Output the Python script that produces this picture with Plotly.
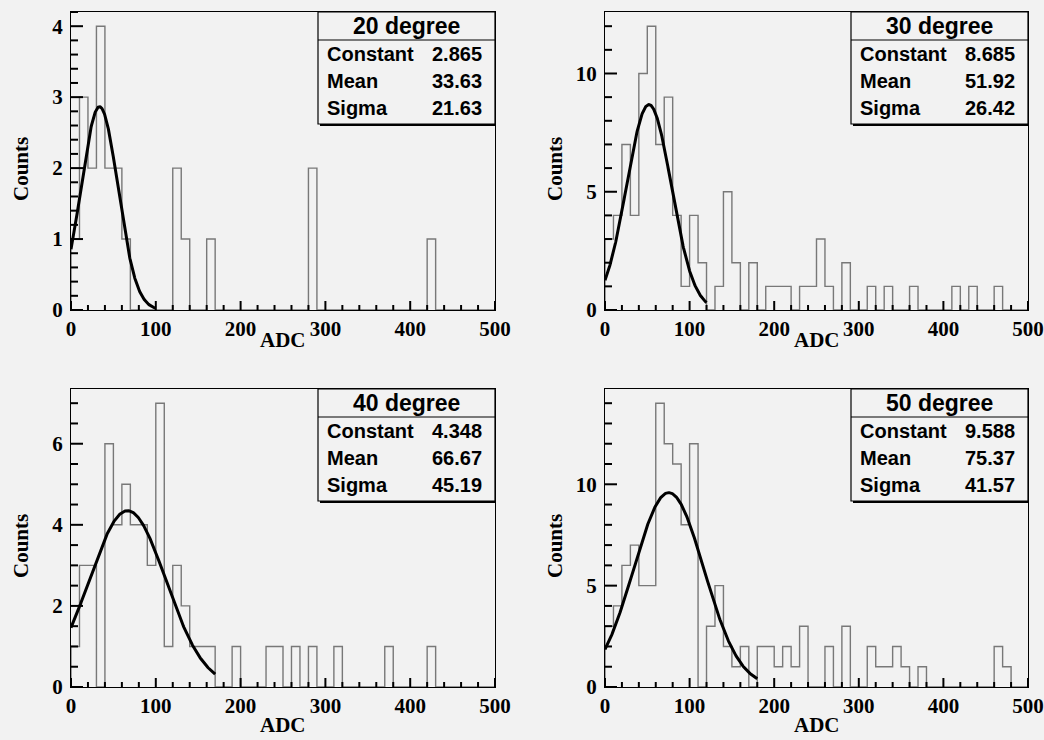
import numpy as np
import plotly.graph_objects as go

# ADC histograms, 50 bins of width 10 over 0..500
BIN_WIDTH = 10
ADC_MIN, ADC_MAX = 0, 500

panel_titles = ["20 degree", "30 degree", "40 degree", "50 degree"]

counts_20 = [1, 3, 2, 4, 2, 2, 1, 0, 0, 0,
             0, 0, 2, 1, 0, 0, 1, 0, 0, 0,
             0, 0, 0, 0, 0, 0, 0, 0, 2, 0,
             0, 0, 0, 0, 0, 0, 0, 0, 0, 0,
             0, 0, 1, 0, 0, 0, 0, 0, 0, 0]
counts_30 = [3, 4, 7, 4, 10, 12, 7, 9, 4, 1,
             4, 2, 0, 1, 5, 2, 0, 2, 0, 1,
             1, 1, 0, 1, 1, 3, 1, 0, 2, 0,
             0, 1, 0, 1, 0, 0, 1, 0, 0, 0,
             0, 1, 0, 1, 0, 0, 1, 0, 0, 0]
counts_40 = [1, 3, 3, 0, 6, 4, 5, 4, 4, 3,
             7, 1, 3, 2, 1, 1, 1, 0, 0, 1,
             0, 0, 0, 1, 1, 0, 1, 0, 1, 0,
             0, 1, 0, 0, 0, 0, 0, 1, 0, 0,
             0, 0, 1, 0, 0, 0, 0, 0, 0, 0]
counts_50 = [3, 4, 6, 7, 5, 5, 14, 12, 11, 8,
             12, 0, 3, 5, 2, 1, 2, 0, 2, 2,
             1, 2, 1, 3, 0, 0, 2, 0, 3, 0,
             0, 2, 1, 1, 2, 1, 0, 1, 0, 0,
             0, 0, 0, 0, 0, 0, 2, 1, 0, 0]
all_counts = [counts_20, counts_30, counts_40, counts_50]

# Gaussian fit results and fit ranges
fit_constant = [2.865, 8.685, 4.348, 9.588]
fit_mean = [33.63, 51.92, 66.67, 75.37]
fit_sigma = [21.63, 26.42, 45.19, 41.57]
fit_lo = [0, 0, 0, 0]
fit_hi = [100, 120, 170, 180]

# tick spacing per panel
y_major = [1, 5, 2, 5]
y_minor = [0.2, 1, 0.5, 1]
x_major = 100
x_minor = 20

W, H = 1044, 740
BG = "#f2f2f2"
HIST_COLOR = "#787878"
SERIF = "Liberation Serif"
SANS = "Liberation Sans"

# frame of each pad in pixels: left, top, right, bottom
frames = [(71, 12, 495, 310), (605, 12, 1028, 310),
          (71, 389, 495, 687), (605, 389, 1028, 687)]


def fx(p):
    return p / W


def fy(p):
    return 1 - p / H


fig = go.Figure()
shapes = []
annotations = []

for i in range(4):
    k = "" if i == 0 else str(i + 1)
    xa, ya = "x" + k, "y" + k
    left, top, right, bottom = frames[i]
    pw, ph = right - left, bottom - top
    counts = all_counts[i]
    ymax = max(counts) * 1.05

    # histogram outline as a step line
    edges = [ADC_MIN + BIN_WIDTH * j for j in range(len(counts) + 1)]
    xs = [edges[0]] + edges
    ys = [0] + counts + [counts[-1]]
    fig.add_trace(go.Scatter(x=xs, y=ys, mode="lines", line_shape="hv",
                             line=dict(color=HIST_COLOR, width=1.4),
                             xaxis=xa, yaxis=ya, showlegend=False,
                             hoverinfo="skip"))

    # fitted gaussian
    xf = np.linspace(fit_lo[i], fit_hi[i], 300)
    yf = fit_constant[i] * np.exp(-0.5 * ((xf - fit_mean[i]) / fit_sigma[i]) ** 2)
    fig.add_trace(go.Scatter(x=xf, y=yf, mode="lines",
                             line=dict(color="black", width=3),
                             xaxis=xa, yaxis=ya, showlegend=False,
                             hoverinfo="skip"))

    # inward tick marks along the bottom and left frame edges
    # (lengths given in pixels, converted through each axis scale)
    tx, ty = [], []
    for xv in np.arange(ADC_MIN, ADC_MAX + 0.001, x_minor):
        is_major = abs(xv / x_major - round(xv / x_major)) < 1e-6
        length = (9 if is_major else 5) * ymax / ph
        tx += [float(xv), float(xv), None]
        ty += [0, length, None]
    for yv in np.arange(0, ymax + 1e-9, y_minor[i]):
        is_major = abs(yv / y_major[i] - round(yv / y_major[i])) < 1e-6
        length = (12 if is_major else 7) * (ADC_MAX - ADC_MIN) / pw
        tx += [ADC_MIN, ADC_MIN + length, None]
        ty += [float(yv), float(yv), None]
    fig.add_trace(go.Scatter(x=tx, y=ty, mode="lines",
                             line=dict(color="black", width=2),
                             xaxis=xa, yaxis=ya, showlegend=False,
                             hoverinfo="skip"))

    tickfont = dict(family=SERIF, size=21, color="black", weight="bold")
    fig.update_layout(**{
        "xaxis" + k: dict(domain=[fx(left), fx(right)], range=[ADC_MIN, ADC_MAX],
                          anchor=ya, showgrid=False, zeroline=False,
                          showline=True, linecolor="black", linewidth=1.3, mirror=True,
                          ticks="", tick0=0, dtick=x_major, tickfont=tickfont),
        "yaxis" + k: dict(domain=[fy(bottom), fy(top)], range=[0, ymax],
                          anchor=xa, showgrid=False, zeroline=False,
                          showline=True, linecolor="black", linewidth=1.3, mirror=True,
                          ticks="", tick0=0, dtick=y_major[i], tickfont=tickfont,
                          ticklabelstandoff=3),
    })

    # axis titles
    annotations.append(dict(x=fx((left + right) / 2), y=fy(bottom + (30 if i < 2 else 38)),
                            xref="paper", yref="paper", text="ADC", showarrow=False,
                            font=dict(family=SERIF, size=21, color="black", weight="bold"),
                            xanchor="center", yanchor="middle"))
    annotations.append(dict(x=fx(left - 50), y=fy((top + bottom) / 2 + 8),
                            xref="paper", yref="paper", text="Counts", showarrow=False,
                            textangle=-90,
                            font=dict(family=SERIF, size=21, color="black", weight="bold"),
                            xanchor="center", yanchor="middle"))

    # statistics box
    bw, bh = 177, 112
    bl, bt, br, bb = right - bw, top, right, top + bh
    shapes.append(dict(type="line", xref="paper", yref="paper",
                       x0=fx(bl + 2), x1=fx(br), y0=fy(bb + 1), y1=fy(bb + 1),
                       line=dict(color="black", width=2)))
    shapes.append(dict(type="rect", xref="paper", yref="paper",
                       x0=fx(bl), x1=fx(br), y0=fy(bb), y1=fy(bt),
                       fillcolor=BG, line=dict(color="black", width=1.2)))
    shapes.append(dict(type="line", xref="paper", yref="paper",
                       x0=fx(bl), x1=fx(br), y0=fy(bt + 28), y1=fy(bt + 28),
                       line=dict(color="black", width=1.2)))
    annotations.append(dict(x=fx((bl + br) / 2), y=fy(bt + 14), xref="paper", yref="paper",
                            text=panel_titles[i], showarrow=False,
                            font=dict(family=SANS, size=23, color="black", weight="bold"),
                            xanchor="center", yanchor="middle"))
    rows = [("Constant", fit_constant[i]), ("Mean", fit_mean[i]), ("Sigma", fit_sigma[i])]
    for r, (name, val) in enumerate(rows):
        yy = fy(bt + 42 + r * 27)
        annotations.append(dict(x=fx(bl + 7), y=yy, xref="paper", yref="paper",
                                text=name, showarrow=False,
                                font=dict(family=SANS, size=20, color="black", weight="bold"),
                                xanchor="left", yanchor="middle"))
        annotations.append(dict(x=fx(br - 11), y=yy, xref="paper", yref="paper",
                                text=f"{val:.4g}", showarrow=False,
                                font=dict(family=SANS, size=20, color="black", weight="bold"),
                                xanchor="right", yanchor="middle"))

fig.update_layout(template="none", width=W, height=H, margin=dict(l=0, r=0, t=0, b=0),
                  paper_bgcolor=BG, plot_bgcolor=BG,
                  shapes=shapes, annotations=annotations, showlegend=False)

fig.write_html("out.html")
